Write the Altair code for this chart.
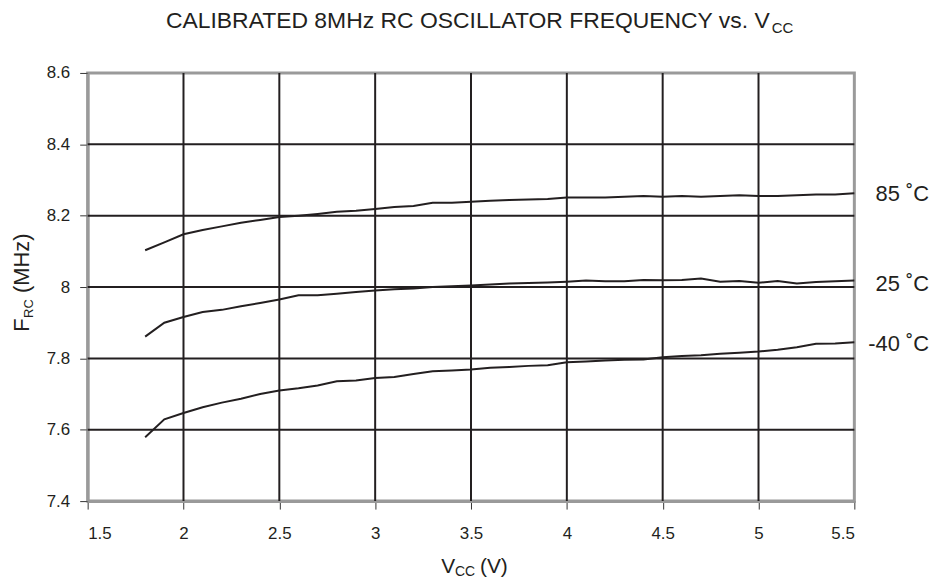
import altair as alt
import pandas as pd

# ---- data ----
vcc = [1.8, 1.9, 2.0, 2.1, 2.2, 2.3, 2.4, 2.5, 2.6, 2.7, 2.8, 2.9, 3.0, 3.1, 3.2, 3.3, 3.4, 3.5,
       3.6, 3.7, 3.8, 3.9, 4.0, 4.1, 4.2, 4.3, 4.4, 4.5, 4.6, 4.7, 4.8, 4.9, 5.0, 5.1, 5.2, 5.3, 5.4, 5.5]

f_85 = [8.103, 8.125, 8.148, 8.160, 8.170, 8.180, 8.188, 8.196, 8.200, 8.205, 8.211, 8.214, 8.219,
        8.224, 8.227, 8.236, 8.236, 8.239, 8.242, 8.244, 8.245, 8.247, 8.251, 8.251, 8.251, 8.253,
        8.255, 8.253, 8.255, 8.253, 8.255, 8.257, 8.255, 8.255, 8.257, 8.259, 8.259, 8.263]

f_25 = [7.861, 7.900, 7.916, 7.930, 7.936, 7.946, 7.955, 7.965, 7.977, 7.977, 7.981, 7.986, 7.990,
        7.994, 7.996, 8.000, 8.002, 8.004, 8.007, 8.010, 8.011, 8.013, 8.015, 8.018, 8.016, 8.016,
        8.020, 8.019, 8.020, 8.024, 8.015, 8.017, 8.012, 8.017, 8.010, 8.014, 8.016, 8.018]

f_m40 = [7.579, 7.629, 7.647, 7.663, 7.676, 7.687, 7.700, 7.710, 7.716, 7.724, 7.736, 7.738, 7.745,
         7.748, 7.756, 7.764, 7.766, 7.769, 7.774, 7.776, 7.779, 7.781, 7.789, 7.791, 7.794, 7.796,
         7.797, 7.803, 7.807, 7.809, 7.813, 7.816, 7.819, 7.824, 7.831, 7.841, 7.842, 7.845]

series_names = ["85 ˚C", "25 ˚C", "-40 ˚C"]
label_y = [8.26, 8.009, 7.839]

x_ticks = [1.5, 2, 2.5, 3, 3.5, 4, 4.5, 5, 5.5]
y_ticks = [7.4, 7.6, 7.8, 8.0, 8.2, 8.4, 8.6]
x_grid = [2, 2.5, 3, 3.5, 4, 4.5, 5]
y_grid = [7.6, 7.8, 8.0, 8.2, 8.4]

title_main = "CALIBRATED 8MHz RC OSCILLATOR FREQUENCY vs. V"
title_sub = "CC"

FONT = "Liberation Sans"
INK = "#231f20"

rows = []
for name, vals in zip(series_names, [f_85, f_25, f_m40]):
    for v, f in zip(vcc, vals):
        rows.append({"vcc": v, "freq": f, "series": name})
df = pd.DataFrame(rows)
labels_df = pd.DataFrame({"series": series_names, "vcc": [5.5] * 3, "freq": label_y})
xg_df = pd.DataFrame({"v": x_grid})
yg_df = pd.DataFrame({"f": y_grid})

xscale = alt.Scale(domain=[1.5, 5.5], nice=False, zero=False)
yscale = alt.Scale(domain=[7.4, 8.6], nice=False, zero=False)

x_axis = alt.Axis(values=x_ticks, format="~g", title=None, grid=False,
                  domainColor="#9a9a9a", domainWidth=3, tickColor="#333333", tickSize=8,
                  tickWidth=1, labelFontSize=17, labelPadding=17, labelColor=INK, labelFont=FONT)
y_axis = alt.Axis(values=y_ticks, format="~g", title=None, grid=False,
                  domainColor="#9a9a9a", domainWidth=3, tickColor="#333333", tickSize=8,
                  tickWidth=1, labelFontSize=17, labelPadding=10, labelColor=INK, labelFont=FONT)

lines = alt.Chart(df).mark_line(color=INK, strokeWidth=2).encode(
    x=alt.X("vcc:Q", scale=xscale, axis=x_axis),
    y=alt.Y("freq:Q", scale=yscale, axis=y_axis),
    detail="series:N",
)

vgrid = alt.Chart(xg_df).mark_rule(color=INK, strokeWidth=2).encode(
    x=alt.X("v:Q", scale=xscale))
hgrid = alt.Chart(yg_df).mark_rule(color=INK, strokeWidth=2).encode(
    y=alt.Y("f:Q", scale=yscale))

labels = alt.Chart(labels_df).mark_text(
    align="right", baseline="middle", dx=75, fontSize=22, font=FONT, color=INK
).encode(
    x=alt.X("vcc:Q", scale=xscale),
    y=alt.Y("freq:Q", scale=yscale),
    text="series:N",
)

def txt(s, x, y, size, align="left", angle=0):
    return alt.Chart(pd.DataFrame({"t": [s]})).mark_text(
        align=align, baseline="alphabetic", fontSize=size, font=FONT, color=INK, angle=angle
    ).encode(text="t:N", x=alt.value(x), y=alt.value(y))

title_a = txt(title_main, 685, -45, 23, align="right")
title_b = txt(title_sub, 687, -40, 15)

xt_a = txt("V", 355, 502, 21)
xt_b = txt("CC", 369, 505, 14)
xt_c = txt("(V)", 394, 502, 21)

yt_a = txt("F", -59, 260, 22, angle=270)
yt_b = txt("RC", -55, 246, 13, angle=270)
yt_c = txt("(MHz)", -59, 221, 22, angle=270)

chart = alt.layer(
    vgrid, hgrid, lines, labels,
    title_a, title_b, xt_a, xt_b, xt_c, yt_a, yt_b, yt_c,
).properties(
    width=770, height=430,
    padding={"left": 80, "top": 64, "right": 80, "bottom": 76},
    autosize=alt.AutoSizeParams(type="none"),
    background="white",
).configure_view(stroke="#9a9a9a", strokeWidth=3)

chart.save("out.html", embed_options={"renderer": "svg", "actions": False})
